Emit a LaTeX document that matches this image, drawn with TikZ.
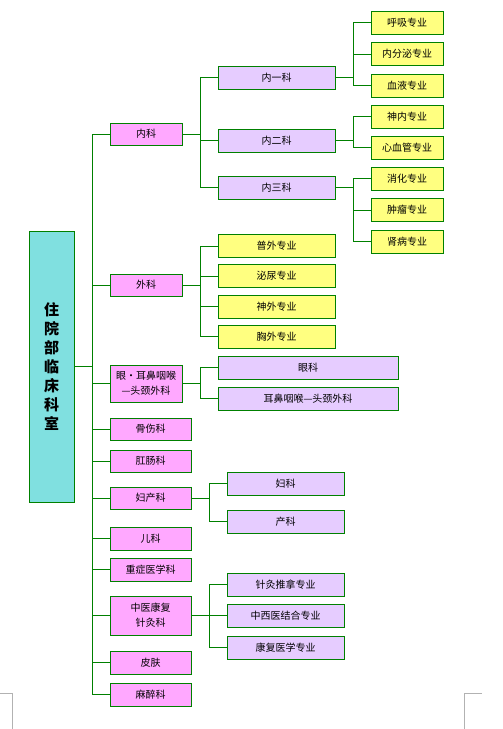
\documentclass[tikz,border=0pt]{standalone}
\usepackage{fontspec}
\newfontfamily\cjk{Noto Sans CJK SC}
\usepackage{tikz}
\usetikzlibrary{positioning,calc}
\definecolor{lineg}{HTML}{008000}
\definecolor{rootcyan}{HTML}{80E0E0}
\definecolor{deptpink}{HTML}{FFA8FF}
\definecolor{sectlav}{HTML}{E6CCFF}
\definecolor{specyel}{HTML}{FFFF80}
\tikzset{
  box/.style={draw=lineg, line width=0.8pt, inner sep=0pt, align=center,
    font=\cjk\fontsize{10}{15}\selectfont},
  rootbox/.style={box, fill=rootcyan, minimum width=45, minimum height=271,
    font=\cjk\bfseries\fontsize{15}{19}\selectfont},
  deptA/.style={box, fill=deptpink, minimum width=72, minimum height=22},
  deptB/.style={box, fill=deptpink, minimum width=81, minimum height=22},
  sect/.style={box, fill=sectlav, minimum width=117, minimum height=23},
  spec/.style={box, fill=specyel, minimum width=72, minimum height=23},
  link/.style={draw=lineg, line width=0.8pt},
}
\begin{document}
\begin{tikzpicture}[x=1pt, y=-1pt]
	\useasboundingbox (0,0) rectangle (503,729);
	% Racine
	\node[rootbox] (root) at (51.5,366.5) {住\\院\\部\\临\\床\\科\\室};
	
	% Premier niveau
	\node[deptA] (nk) at (146,134) {内科};
	\node[deptA] (wk) at (146,285) {外科};
	\node[deptA, minimum height=37] (yb) at (146,383.5) {眼·耳鼻咽喉\\—头颈外科};
	\node[deptB] (gs) at (150.5,429) {骨伤科};
	\node[deptB] (gc) at (150.5,461) {肛肠科};
	\node[deptB] (fc) at (150.5,498) {妇产科};
	\node[deptB, minimum height=23] (ek) at (150.5,538.5) {儿科};
	\node[deptB, minimum height=23] (zz) at (150.5,569.5) {重症医学科};
	\node[deptB, minimum height=39] (zy) at (150.5,615.5) {中医康复\\针灸科};
	\node[deptB, minimum height=23] (pf) at (150.5,662.5) {皮肤};
	\node[deptB, minimum height=23] (mz) at (150.5,694.5) {麻醉科};
	
	% Services du 内科
	\node[sect] (nk1) at (276.5,77.5) {内一科};
	\node[sect] (nk2) at (276.5,140.5) {内二科};
	\node[sect] (nk3) at (276.5,187.5) {内三科};
	
	% Spécialités
	\node[spec] (hx) at (407,22.5) {呼吸专业};
	\node[spec] (nf) at (407,54) {内分泌专业};
	\node[spec] (xy) at (407,85.5) {血液专业};
	\node[spec] (sn) at (407,116.5) {神内专业};
	\node[spec] (xx) at (407,147.5) {心血管专业};
	\node[spec] (xh) at (407,178.5) {消化专业};
	\node[spec] (zl) at (407,210) {肿瘤专业};
	\node[spec] (sb) at (407,241.5) {肾病专业};
	
	\node[spec, minimum width=117] (pw) at (276.5,246) {普外专业};
	\node[spec, minimum width=117] (mn) at (276.5,276) {泌尿专业};
	\node[spec, minimum width=117] (sw) at (276.5,306.5) {神外专业};
	\node[spec, minimum width=117] (xw) at (276.5,336.5) {胸外专业};
	
	\node[sect, minimum width=180] (yk) at (308,367.5) {眼科};
	\node[sect, minimum width=180] (eb) at (308,398.5) {耳鼻咽喉—头颈外科};
	
	\node[sect] (fk) at (285.5,483.5) {妇科};
	\node[sect] (ck) at (285.5,521.5) {产科};
	
	\node[sect] (zt) at (285.5,584.5) {针灸推拿专业};
	\node[sect] (zx) at (285.5,615.5) {中西医结合专业};
	\node[sect] (kf) at (285.5,647.5) {康复医学专业};
	
	% Liaisons
	\foreach \n in {nk,wk,yb,gs,gc,fc,ek,zz,zy,pf,mz}
		\draw[link] (root.east) -- ++(18,0) |- (\n.west);
	\foreach \n in {nk1,nk2,nk3}
		\draw[link] (nk.east) -- ++(18,0) |- (\n.west);
	\foreach \n in {hx,nf,xy}
		\draw[link] (nk1.east) -- ++(18,0) |- (\n.west);
	\foreach \n in {sn,xx}
		\draw[link] (nk2.east) -- ++(18,0) |- (\n.west);
	\foreach \n in {xh,zl,sb}
		\draw[link] (nk3.east) -- ++(18,0) |- (\n.west);
	\foreach \n in {pw,mn,sw,xw}
		\draw[link] (wk.east) -- ++(18,0) |- (\n.west);
	\foreach \n in {yk,eb}
		\draw[link] (yb.east) -- ++(18,0) |- (\n.west);
	\foreach \n in {fk,ck}
		\draw[link] (fc.east) -- ++(18,0) |- (\n.west);
	\foreach \n in {zt,zx,kf}
		\draw[link] (zy.east) -- ++(18,0) |- (\n.west);
	
	% Repères de marge
	\draw[gray!60, line width=0.8pt] (0,693) -- (12,693) -- (12,729);
	\draw[gray!60, line width=0.8pt] (482,693) -- (464,693) -- (464,729);
\end{tikzpicture}
\end{document}
